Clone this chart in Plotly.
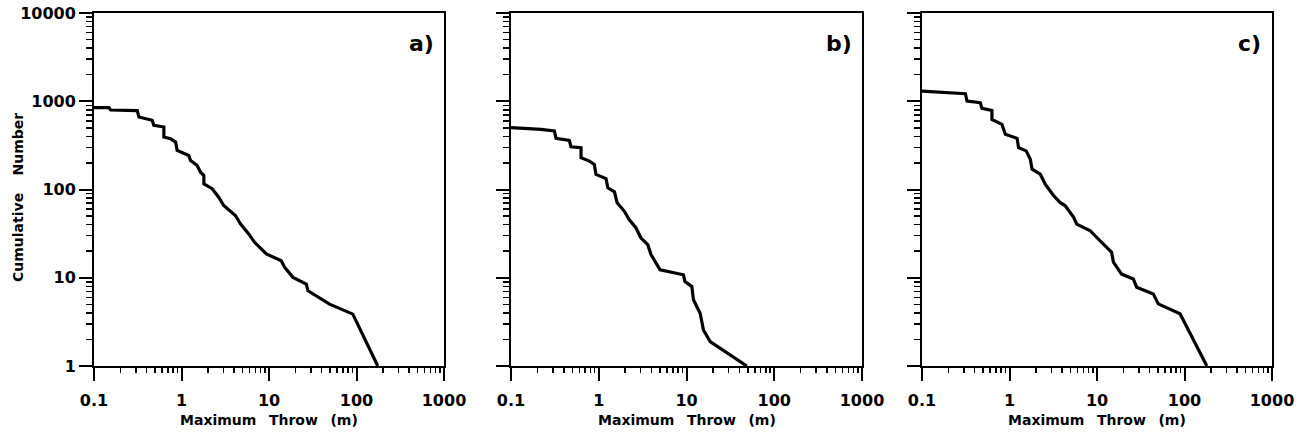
import plotly.graph_objects as go

# ---------------- data ----------------
throw_a = [0.1, 0.148, 0.155, 0.312, 0.326, 0.462, 0.483, 0.629, 0.629, 0.75, 0.856, 0.892,
           1.21, 1.27, 1.51, 1.65, 1.8, 1.8, 2.24, 2.66, 3.04, 4.13, 4.71, 5.86, 6.85, 9.33,
           13.8, 15.1, 18.8, 26.7, 27.9, 49.2, 90.8, 175]
count_a = [848, 848, 796, 784, 664, 609, 534, 511, 393, 376, 345, 277,
           243, 213, 187, 157, 144, 116, 102, 81.8, 65.8, 50.7, 40.8, 31.4, 25.2, 18.6,
           15.6, 13.1, 10.1, 8.48, 7.11, 5.02, 3.87, 1]

throw_b = [0.1, 0.22, 0.312, 0.326, 0.462, 0.483, 0.628, 0.628, 0.782, 0.89, 0.93, 1.21,
           1.27, 1.51, 1.62, 1.96, 2.22, 2.66, 3.03, 3.62, 3.94, 4.91, 5.0, 9.22, 9.6,
           11.5, 12.0, 14.3, 15.6, 18.6, 48.7]
count_b = [502, 481, 460, 380, 360, 305, 298, 229, 210, 192, 148, 133,
           104.6, 94, 70.6, 56.6, 45.6, 36.7, 28.2, 23.7, 18.3, 12.9, 12.3, 10.8, 9.08,
           7.96, 5.62, 3.97, 2.56, 1.89, 1]

throw_c = [0.1, 0.22, 0.313, 0.327, 0.463, 0.485, 0.63, 0.63, 0.82, 0.896, 1.22, 1.27,
           1.55, 1.73, 1.81, 2.25, 2.56, 3.2, 3.78, 4.34, 5.41, 5.86, 8.39, 9.08, 11.8,
           14.7, 15.4, 19.1, 26.0, 28.4, 44.0, 50.1, 88.9, 180]
count_c = [1304, 1247, 1216, 1005, 961, 830, 787, 622, 547, 422, 380, 298,
           274, 220, 170, 149, 115, 84.9, 71.3, 65.4, 48.3, 40.5, 34.1, 31.3, 24.1,
           19.4, 15.0, 11.0, 9.69, 7.81, 6.56, 5.06, 3.9, 1]

panel_labels = ["a)", "b)", "c)"]
x_tickvals = [0.1, 1, 10, 100, 1000]
x_ticktext = ["0.1", "1", "10", "100", "1000"]
y_tickvals = [1, 10, 100, 1000, 10000]
y_ticktext = ["1", "10", "100", "1000", "10000"]
x_title = "Maximum\u00a0\u00a0\u2009Throw\u00a0\u00a0\u2009(m)"
y_title = "Cumulative\u00a0\u00a0\u00a0\u2009Number"

series = [(throw_a, count_a), (throw_b, count_b), (throw_c, count_c)]

# ---------------- layout geometry ----------------
W, H = 1309, 440
x_doms = [(94, 444), (511, 862), (922, 1272)]
y_top, y_bot = 13, 366

FONT = "DejaVu Sans"
fig = go.Figure()

for i, (xs, ys) in enumerate(series):
    n = "" if i == 0 else str(i + 1)
    fig.add_trace(go.Scatter(x=xs, y=ys, mode="lines",
                             line=dict(color="black", width=3.2),
                             xaxis="x" + n, yaxis="y" + n, showlegend=False,
                             hoverinfo="x+y"))
    xa = dict(type="log", range=[-1, 3], automargin=False,
              domain=[x_doms[i][0] / W, x_doms[i][1] / W],
              anchor="y" + n,
              showline=True, linecolor="black", linewidth=2, mirror=True,
              showgrid=False, zeroline=False,
              ticks="outside", ticklen=13, tickwidth=2, tickcolor="black",
              tickvals=x_tickvals, ticktext=x_ticktext,
              tickfont=dict(family=FONT, size=16, color="black", weight="bold"),
              ticklabelstandoff=6,
              minor=dict(ticks="outside", ticklen=5, tickwidth=1.5, tickcolor="black",
                         dtick="D1", showgrid=False))
    ya = dict(type="log", range=[0, 4], automargin=False,
              domain=[1 - y_bot / H, 1 - y_top / H],
              anchor="x" + n,
              showline=True, linecolor="black", linewidth=2, mirror=True,
              showgrid=False, zeroline=False,
              ticks="outside", ticklen=13, tickwidth=2, tickcolor="black",
              tickvals=y_tickvals,
              ticktext=y_ticktext if i == 0 else [""] * len(y_tickvals),
              tickfont=dict(family=FONT, size=16, color="black", weight="bold"),
              minor=dict(ticks="outside", ticklen=6, tickwidth=1.5, tickcolor="black",
                         dtick="D1", showgrid=False))
    fig.layout["xaxis" + n] = xa
    fig.layout["yaxis" + n] = ya

    fig.add_annotation(text=panel_labels[i], xref="x" + n + " domain", yref="y" + n + " domain",
                       x=0.935, y=0.915, xanchor="center", yanchor="middle", showarrow=False,
                       font=dict(family=FONT, size=22, color="black", weight="bold"))
    fig.add_annotation(text=x_title, xref="paper", yref="paper",
                       x=(x_doms[i][0] + x_doms[i][1]) / 2 / W, y=1 - 420 / H,
                       xanchor="center", yanchor="middle", showarrow=False,
                       font=dict(family=FONT, size=14, color="black", weight="bold"))

fig.add_annotation(text=y_title, xref="paper", yref="paper", x=18 / W, y=1 - 198 / H,
                   xanchor="center", yanchor="middle", textangle=-90, showarrow=False,
                   font=dict(family=FONT, size=14, color="black", weight="bold"))

fig.update_layout(width=W, height=H, margin=dict(l=0, r=0, t=0, b=0),
                  plot_bgcolor="white", paper_bgcolor="white", hovermode=False)

fig.write_html("out.html", config={"displayModeBar": False, "staticPlot": True},
               post_script="document.body.style.margin='0';document.body.style.overflow='hidden';")
